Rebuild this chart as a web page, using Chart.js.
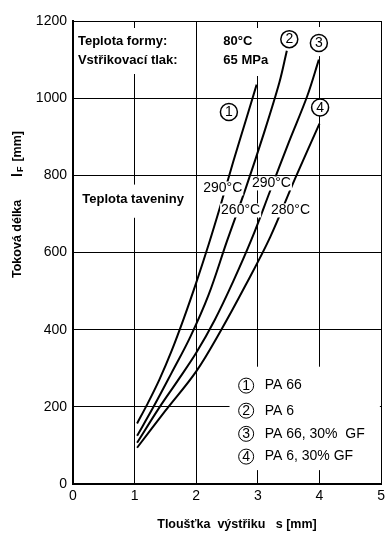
<!DOCTYPE html>
<html><head><meta charset="utf-8">
<script src="https://cdn.jsdelivr.net/npm/chart.js@4"></script>
<style>html,body{margin:0;padding:0;background:#fff;}</style>
</head><body>
<canvas id="c" width="389" height="542"></canvas>
<script>
// ---- data ----
const xTickLabels = ['0','1','2','3','4','5'];
const yTickLabels = ['0','200','400','600','800','1000','1200'];
const materials = ['PA 66', 'PA 6', 'PA 66, 30%  GF', 'PA 6, 30% GF'];
const meltTemps = ['290°C', '260°C', '290°C', '280°C'];

const pa66X   = [1.04, 1.2, 1.4, 1.6, 1.8, 2.0, 2.2, 2.4, 2.6, 2.8, 2.98];
const pa66Y   = [157, 205, 270, 345, 430, 522, 620, 725, 835, 940, 1035];
const pa6X    = [1.04, 1.3, 1.6, 1.9, 2.2, 2.5, 2.8, 3.1, 3.35, 3.47];
const pa6Y    = [125, 198, 288, 380, 490, 630, 765, 910, 1041, 1123];
const pa66gfX = [1.04, 1.4, 1.7, 2.0, 2.3, 2.6, 2.9, 3.2, 3.5, 3.8, 3.99];
const pa66gfY = [107, 198, 268, 340, 425, 525, 635, 760, 885, 1005, 1100];
const pa6gfX  = [1.04, 1.5, 2.0, 2.4, 2.8, 3.2, 3.6, 4.0];
const pa6gfY  = [94, 190, 292, 398, 515, 640, 790, 934];

const FONT = '"Liberation Sans", Arial, sans-serif';
const pts = (xs, ys) => xs.map((v, i) => ({x: v, y: ys[i]}));
const curve = (label, xs, ys) => ({
  label, data: pts(xs, ys), borderColor: '#000', borderWidth: 2,
  pointRadius: 0, fill: false, tension: 0.35
});

const annot = {
  id: 'annot',
  afterDatasetsDraw(chart) {
    const {ctx, scales: {x, y}} = chart;
    const px = v => x.getPixelForValue(v), py = v => y.getPixelForValue(v);
    ctx.save();
    const white = (x0, y0, x1, y1) => { ctx.fillStyle = '#fff'; ctx.fillRect(x0, y0, x1 - x0, y1 - y0); };
    const text = (t, X, Y, font, align) => {
      ctx.font = font; ctx.fillStyle = '#000'; ctx.textAlign = align || 'left';
      ctx.textBaseline = 'middle'; ctx.fillText(t, X, Y);
    };
    const circ = (n, X, Y, r, lw, font) => {
      ctx.beginPath(); ctx.arc(X, Y, r, 0, Math.PI * 2);
      ctx.fillStyle = '#fff'; ctx.fill();
      ctx.lineWidth = lw; ctx.strokeStyle = '#000'; ctx.stroke();
      text(String(n), X, Y + 0.5, font, 'center');
    };
    const top = chart.chartArea.top;

    // header boxes
    white(px(0) + 2, top + 7, px(1.9), top + 53);
    text('Teplota formy:', px(0.08), top + 20, 'bold 13px ' + FONT);
    text('Vstřikovací tlak:', px(0.08), top + 39, 'bold 13px ' + FONT);
    white(px(2.35), top + 7, px(3.35), top + 55);
    text('80°C', px(2.44), top + 20, 'bold 13px ' + FONT);
    text('65 MPa', px(2.44), top + 39, 'bold 13px ' + FONT);

    // melt temperature header
    white(px(0) + 2, py(776), px(1.97), py(690));
    text('Teplota taveniny', px(0.15), py(738), 'bold 13px ' + FONT);

    // temperature labels on curves (white background hides curve)
    const tl = [[2.43, 766], [2.72, 709], [3.22, 779], [3.53, 709]];
    ctx.font = '14px ' + FONT;
    tl.forEach((p, i) => {
      const w = ctx.measureText(meltTemps[i]).width;
      white(px(p[0]) - w / 2 - 1, py(p[1]) - 7, px(p[0]) + w / 2 + 1, py(p[1]) + 7);
    });
    tl.forEach((p, i) => text(meltTemps[i], px(p[0]), py(p[1]), '14px ' + FONT, 'center'));

    // circled curve numbers
    white(px(3.87), top + 6, px(4.12), py(1109));
    const cn = [[2.53, 964], [3.51, 1153], [3.99, 1143], [4.01, 976]];
    cn.forEach((p, i) => circ(i + 1, px(p[0]), py(p[1]), 8.5, 1.5, '14px ' + FONT));

    // legend
    white(px(2.54), py(304), px(4.98), py(36));
    const rows = [255, 190, 130, 71];
    rows.forEach((v, i) => {
      circ(i + 1, px(2.81), py(v), 7.5, 1, '14px ' + FONT);
      text(materials[i], px(3.11), py(v), '14px ' + FONT);
    });

    // axis titles
    ctx.save();
    ctx.translate(18, 0);
    ctx.rotate(-Math.PI / 2);
    ctx.font = 'bold 12.5px ' + FONT; ctx.fillStyle = '#000';
    ctx.textAlign = 'left'; ctx.textBaseline = 'middle';
    ctx.fillText('Toková délka', -278, 0);
    let xx = -177;
    ctx.font = 'bold 14px ' + FONT;
    ctx.fillText('l', xx, 0); xx += ctx.measureText('l').width + 1;
    ctx.font = 'bold 9px ' + FONT;
    ctx.fillText('F', xx, 3); xx += ctx.measureText('F').width + 5;
    ctx.font = 'bold 12.5px ' + FONT;
    ctx.fillText('[mm]', xx, 0);
    ctx.restore();

    text('Tloušťka  výstřiku   s [mm]', 237, 525, 'bold 12.5px ' + FONT, 'center');
    ctx.restore();
  }
};

new Chart(document.getElementById('c'), {
  type: 'line',
  data: {
    datasets: [
      curve(materials[0], pa66X, pa66Y),
      curve(materials[1], pa6X, pa6Y),
      curve(materials[2], pa66gfX, pa66gfY),
      curve(materials[3], pa6gfX, pa6gfY)
    ]
  },
  options: {
    responsive: false, animation: false, devicePixelRatio: 1,
    layout: {padding: {top: 21, right: 7, left: 0, bottom: 0}},
    plugins: {legend: {display: false}, tooltip: {enabled: false}},
    scales: {
      x: {
        type: 'linear', min: 0, max: 5,
        afterFit: s => { s.height = 58; },
        afterBuildTicks: s => { s.ticks = xTickLabels.map(Number).map(v => ({value: v})); },
        ticks: {color: '#000', font: {size: 14, family: FONT}, padding: 4,
                callback: (v, i) => xTickLabels[i]},
        grid: {color: '#000', lineWidth: 1, drawTicks: false},
        border: {color: '#000', width: 2}
      },
      y: {
        min: 0, max: 1200,
        afterFit: s => { s.width = 73; },
        afterBuildTicks: s => { s.ticks = yTickLabels.map(Number).map(v => ({value: v})); },
        ticks: {color: '#000', font: {size: 14, family: FONT}, padding: 6,
                callback: (v, i) => yTickLabels[i]},
        grid: {color: '#000', lineWidth: 1, drawTicks: false},
        border: {color: '#000', width: 2}
      }
    }
  },
  plugins: [annot]
});
</script>
</body></html>
